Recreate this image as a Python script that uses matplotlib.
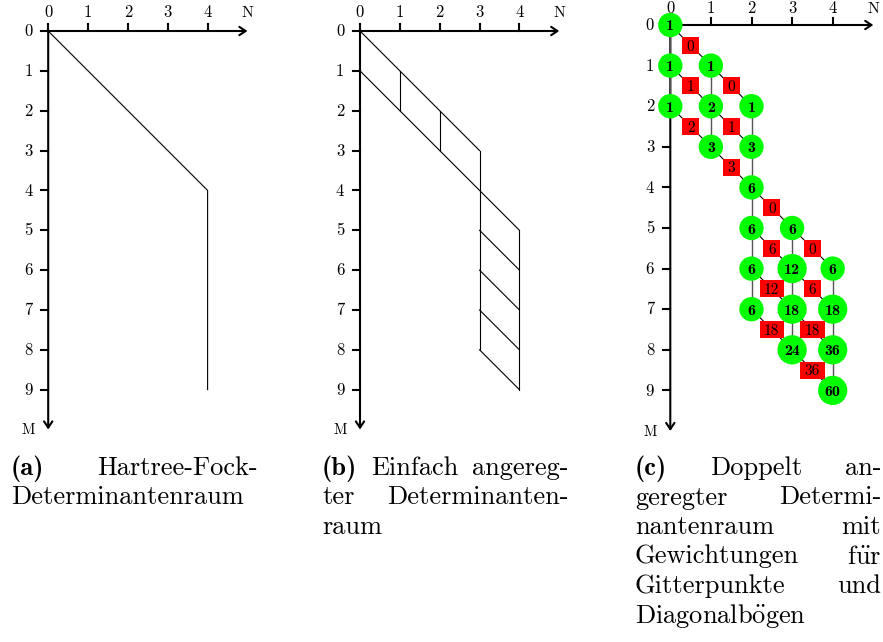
import numpy as np
import matplotlib.pyplot as plt
from matplotlib.patches import Circle, Rectangle

plt.rcParams['font.family'] = ['cmr10', 'DejaVu Serif']
plt.rcParams['mathtext.fontset'] = 'cm'
plt.rcParams['axes.unicode_minus'] = False

W, H = 883, 642

N_ticks = [0, 1, 2, 3, 4]
M_ticks = [0, 1, 2, 3, 4, 5, 6, 7, 8, 9]

# (a) Hartree-Fock path
hf_N = [0, 4, 4]
hf_M = [0, 4, 9]

# (b) singly excited space, segments (N0, M0) -> (N1, M1)
s_N0 = [0, 0, 1, 2, 3, 4, 3, 3, 3, 3]
s_M0 = [0, 1, 1, 2, 3, 5, 5, 6, 7, 8]
s_N1 = [3, 4, 1, 2, 3, 4, 4, 4, 4, 4]
s_M1 = [3, 5, 2, 3, 8, 9, 6, 7, 8, 9]

# (c) doubly excited space: vertex weights and diagonal arc weights
node_N = [0, 0, 1, 0, 1, 2, 1, 2, 2, 2, 3, 2, 3, 4, 2, 3, 4, 3, 4, 4]
node_M = [0, 1, 1, 2, 2, 2, 3, 3, 4, 5, 5, 6, 6, 6, 7, 7, 7, 8, 8, 9]
node_w = [1, 1, 1, 1, 2, 1, 3, 3, 6, 6, 6, 6, 12, 6, 6, 18, 18, 24, 36, 60]

arc_N = [0, 0, 1, 0, 1, 1, 2, 2, 3, 2, 3, 2, 3, 3]
arc_M = [0, 1, 1, 2, 2, 3, 4, 5, 5, 6, 6, 7, 7, 8]
arc_w = [0, 1, 0, 2, 1, 3, 0, 6, 0, 12, 6, 18, 18, 36]

cap_a = [['(a)', 'Hartree-Fock-'], ['Determinantenraum']]
cap_b = [['(b)', 'Einfach', 'angereg-'], ['ter', 'Determinanten-'], ['raum']]
cap_c = [['(c)', 'Doppelt', 'an-'], ['geregter', 'Determi-'],
         ['nantenraum', 'mit'], ['Gewichtungen', r'f$\ddot{\mathrm{u}}$r'],
         ['Gitterpunkte', 'und'], [r'Diagonalb$\ddot{\mathrm{o}}$gen']]

fig = plt.figure(figsize=(W / 100, H / 100), dpi=100)


def panel(ox, oy, unit, top=-0.36):
    ax = fig.add_axes([(ox - 1.2 * unit) / W, 1 - (oy + 10.6 * unit) / H,
                       6.6 * unit / W, 11.4 * unit / H])
    ax.set_xlim(-1.2, 5.4)
    ax.set_ylim(10.6, -0.8)
    ax.axis('off')
    arr = dict(arrowstyle='->,head_length=0.45,head_width=0.3', lw=1.5,
               color='black', shrinkA=0, shrinkB=0)
    ax.annotate('', xy=(5, 0), xytext=(0, 0), arrowprops=arr, zorder=2)
    ax.annotate('', xy=(0, 10), xytext=(0, 0), arrowprops=arr, zorder=2)
    for n in N_ticks:
        ax.plot([n, n], [0, -0.18], color='black', lw=1.5, zorder=2)
        ax.text(n, top, str(n), ha='center', va='baseline', fontsize=12)
    for m in M_ticks:
        ax.plot([0, -0.18], [m, m], color='black', lw=1.5, zorder=2)
        ax.text(-0.5, m + 0.13, str(m), ha='center', va='baseline', fontsize=12)
    ax.text(5, top, 'N', ha='center', va='baseline', fontsize=11.5)
    ax.text(-0.5, 10.12, 'M', ha='center', va='baseline', fontsize=10.5)
    return ax


# (a)
ax = panel(48.2, 31, 39.85)
ax.plot(hf_N, hf_M, color='black', lw=0.8)

# (b)
ax = panel(360, 31, 39.85)
for n0, m0, n1, m1 in zip(s_N0, s_M0, s_N1, s_M1):
    ax.plot([n0, n1], [m0, m1], color='black', lw=0.8)

# (c)
ax = panel(670.3, 25, 40.6, top=-0.3)
for n0, m0 in zip(arc_N, arc_M):
    ax.plot([n0, n0 + 1], [m0, m0 + 1], color='black', lw=0.8, zorder=3)
for i in range(len(node_N)):
    for j in range(len(node_N)):
        if node_N[i] == node_N[j] and node_M[j] == node_M[i] + 1:
            ax.plot([node_N[i], node_N[j]], [node_M[i], node_M[j]],
                    color='#555555', lw=1.0, zorder=3)
for n, m, w in zip(node_N, node_M, node_w):
    r = 0.3 if w < 10 else 0.36
    ax.add_patch(Circle((n, m), r, facecolor='#00ff00', edgecolor='none',
                        zorder=4, clip_on=False))
    ax.text(n, m, str(w), ha='center', va='center_baseline', fontsize=11.5,
            family='cmb10', zorder=5)
for n0, m0, w in zip(arc_N, arc_M, arc_w):
    bw = 0.42 if w < 10 else 0.6
    ax.add_patch(Rectangle((n0 + 0.5 - bw / 2, m0 + 0.5 - 0.21), bw, 0.42,
                           facecolor='#ff0000', edgecolor='none', zorder=4,
                           clip_on=False))
    ax.text(n0 + 0.5, m0 + 0.5, str(w), ha='center', va='center_baseline',
            fontsize=11, zorder=5)

# captions, justified like the LaTeX subcaptions
cap = fig.add_axes([0, 0, 1, 1])
cap.set_xlim(0, W)
cap.set_ylim(H, 0)
cap.axis('off')
rend = fig.canvas.get_renderer()


def caption(x0, x1, lines, base=475, lead=29.5):
    for k, words in enumerate(lines):
        y = base + k * lead
        texts = []
        for j, w in enumerate(words):
            fam = 'cmb10' if (k == 0 and j == 0) else ['cmr10', 'DejaVu Serif']
            texts.append(cap.text(0, y, w, fontsize=19, family=fam,
                                  va='baseline', ha='left'))
        widths = [t.get_window_extent(rend).width for t in texts]
        if len(words) > 1:
            gap = (x1 - x0 - sum(widths)) / (len(words) - 1)
        else:
            gap = 0
        x = x0
        for t, wd in zip(texts, widths):
            t.set_x(x)
            x += wd + gap


caption(11, 258, cap_a)
caption(322, 568.5, cap_b)
caption(635, 881, cap_c)

fig.savefig('out.png', dpi=100)
